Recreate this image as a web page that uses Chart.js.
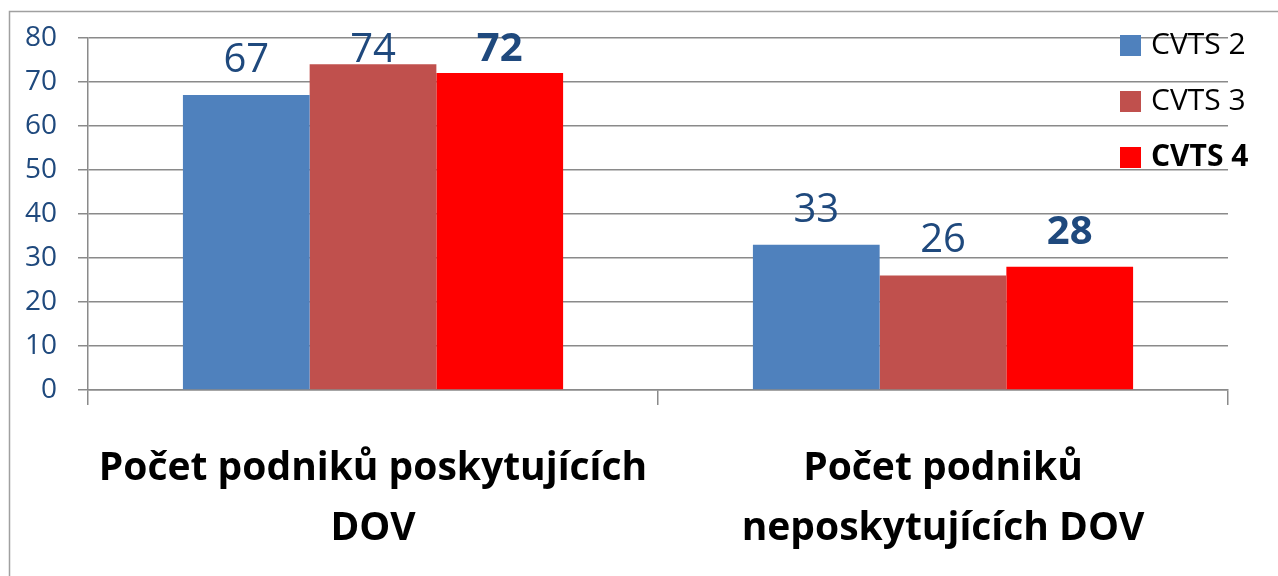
<!DOCTYPE html>
<html>
<head>
<meta charset="utf-8">
<script src="https://cdn.jsdelivr.net/npm/chart.js@4/dist/chart.umd.min.js"></script>
<style>
	html, body { margin: 0; padding: 0; background: #fff; }
</style>
</head>
<body>
<canvas id="myChart" width="1278" height="576"></canvas>
<script>
// chart data
var categories = [
	["Počet podniků poskytujících", "DOV"],
	["Počet podniků", "neposkytujících DOV"]
];
var seriesNames = ["CVTS 2", "CVTS 3", "CVTS 4"];
var cvts2 = [67, 33];
var cvts3 = [74, 26];
var cvts4 = [72, 28];
var yTicks = [0, 10, 20, 30, 40, 50, 60, 70, 80];

var barColors = ["#4F81BD", "#C0504D", "#FF0000"];
var boldSeries = [false, false, true];
var fontName = "'Open Sans', 'Noto Sans', sans-serif";
var labelBlue = "#1F497D";
var gridGray = "#8A8A8A";

// outer frame (top and left edge only are visible in the picture)
var framePlugin = {
	id: 'frame',
	beforeDraw: function(chart) {
		var ctx = chart.ctx;
		ctx.save();
		ctx.strokeStyle = "#A0A0A0";
		ctx.lineWidth = 1.5;
		ctx.beginPath();
		ctx.moveTo(9.5, chart.height);
		ctx.lineTo(9.5, 11.5);
		ctx.lineTo(chart.width, 11.5);
		ctx.stroke();
		ctx.restore();
	}
};

// value labels above the bars
var valueLabels = {
	id: 'valueLabels',
	afterDatasetsDraw: function(chart) {
		var ctx = chart.ctx,
				top = chart.chartArea.top;
		ctx.save();
		ctx.fillStyle = labelBlue;
		ctx.textAlign = 'center';
		ctx.textBaseline = 'alphabetic';
		chart.data.datasets.forEach(function(ds, i) {
			ctx.font = (boldSeries[i] ? 'bold ' : '') + '40px ' + fontName;
			var asc = ctx.measureText('0').actualBoundingBoxAscent;
			chart.getDatasetMeta(i).data.forEach(function(bar, j) {
				var y = Math.max(bar.y - 23, top - 5 + asc);
				ctx.fillText(String(ds.data[j]), bar.x, y);
			});
		});
		ctx.restore();
	}
};

// legend sits over the right end of the plot area
var sideLegend = {
	id: 'sideLegend',
	afterDraw: function(chart) {
		var ctx = chart.ctx;
		ctx.save();
		ctx.textBaseline = 'middle';
		ctx.textAlign = 'left';
		chart.data.datasets.forEach(function(ds, i) {
			var y = 45 + i * 56;
			ctx.fillStyle = ds.backgroundColor;
			ctx.fillRect(1120, y - 10, 21, 21);
			ctx.fillStyle = "#000";
			ctx.font = (boldSeries[i] ? 'bold ' : '') + '30px ' + fontName;
			ctx.fillText(ds.label, 1151, y);
		});
		ctx.restore();
	}
};

var datasets = [cvts2, cvts3, cvts4].map(function(values, i) {
	return {
		label: seriesNames[i],
		data: values,
		backgroundColor: barColors[i],
		borderWidth: 0,
		categoryPercentage: 0.667,
		barPercentage: 1.0
	};
});

var myChart = new Chart(document.getElementById('myChart').getContext('2d'), {
	type: 'bar',
	data: {
		labels: categories,
		datasets: datasets
	},
	options: {
		responsive: false,
		maintainAspectRatio: false,
		animation: false,
		layout: {
			padding: { left: 4, right: 50, top: 14, bottom: -17 }
		},
		plugins: {
			legend: { display: false },
			tooltip: { enabled: false }
		},
		scales: {
			x: {
				grid: {
					drawOnChartArea: false,
					drawTicks: true,
					tickLength: 15,
					color: gridGray,
					lineWidth: 1.5
				},
				border: { display: true, color: gridGray, width: 1.5 },
				ticks: {
					color: "#000",
					padding: 34,
					maxRotation: 0,
					autoSkip: false,
					font: { family: fontName, size: 39, weight: 'bold', lineHeight: 1.54 }
				}
			},
			y: {
				min: yTicks[0],
				max: yTicks[yTicks.length - 1],
				afterBuildTicks: function(axis) {
					axis.ticks = yTicks.map(function(v) { return { value: v }; });
				},
				grid: {
					color: gridGray,
					lineWidth: 1.5,
					tickLength: 10
				},
				border: { display: true, color: gridGray, width: 1.5 },
				ticks: {
					color: labelBlue,
					padding: 21,
					font: { family: fontName, size: 28 }
				}
			}
		}
	},
	plugins: [framePlugin, valueLabels, sideLegend]
});
</script>
</body>
</html>
